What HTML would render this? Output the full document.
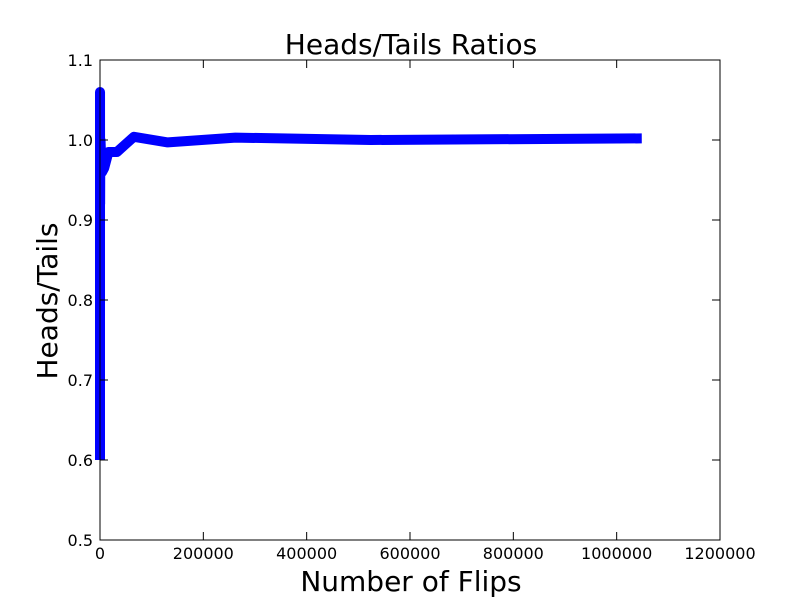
<!DOCTYPE html>
<html><head><meta charset="utf-8"><style>
body{margin:0;background:#fff;}
svg text{font-family:"DejaVu Sans","Liberation Sans",sans-serif;}
</style></head><body>
<svg id="chart" width="800" height="600">
<rect x="0" y="0" width="800" height="600" fill="#fff"/>
<text x="411" y="54" font-size="28" text-anchor="middle">Heads/Tails Ratios</text>
<text x="411" y="591" font-size="28" text-anchor="middle">Number of Flips</text>
<text x="57" y="301" font-size="28" text-anchor="middle" transform="rotate(-90 57 301)">Heads/Tails</text>
<g id="plot"></g>
<rect x="100" y="60" width="620" height="480" fill="none" stroke="#000" stroke-width="1"/>
<g id="axes"></g>
</svg>
<script>
const flips=[4,8,16,32,64,128,256,512,1024,2048,4096,8192,16384,32768,65536,131072,262144,524288,1048576];
const ratios=[0.6,1.06,0.78,0.85,1.06,0.96,0.92,0.97,1.0,0.98,0.96,0.965,0.985,0.985,1.004,0.997,1.003,1.0,1.002];
const xTicks=[0,200000,400000,600000,800000,1000000,1200000];
const yTicks=[0.5,0.6,0.7,0.8,0.9,1.0,1.1];
const L=100,R=720,T=60,B=540,xmin=0,xmax=1200000,ymin=0.5,ymax=1.1;
const X=v=>L+(v-xmin)/(xmax-xmin)*(R-L);
const Y=v=>B-(v-ymin)/(ymax-ymin)*(B-T);
const NS="http://www.w3.org/2000/svg";
const plot=document.getElementById('plot'),axes=document.getElementById('axes');
const line=document.createElementNS(NS,'polyline');
line.setAttribute('points',flips.map((f,i)=>X(f)+','+Y(ratios[i])).join(' '));
line.setAttribute('fill','none');line.setAttribute('stroke','#0000ff');line.setAttribute('stroke-width','10');
line.setAttribute('stroke-linejoin','round');line.setAttribute('stroke-linecap','butt');


plot.appendChild(line);
function mk(tag,attrs){const e=document.createElementNS(NS,tag);for(const k in attrs)e.setAttribute(k,attrs[k]);return e;}
xTicks.forEach(v=>{const x=X(v);
 const t1=mk('line',{x1:x,x2:x,y1:B,y2:B-8,stroke:'#000'});
 
 
 axes.appendChild(t1);
 const t2=mk('line',{x1:x,x2:x,y1:T,y2:T+8,stroke:'#000'});
 
 
 axes.appendChild(t2);
 const tx=mk('text',{x:x,y:B+19,'font-size':'16','text-anchor':'middle'});tx.textContent=v;
 
 
 axes.appendChild(tx);});
yTicks.forEach(v=>{const y=Y(v);
 const t1=mk('line',{x1:L,x2:L+8,y1:y,y2:y,stroke:'#000'});
 
 
 axes.appendChild(t1);
 const t2=mk('line',{x1:R,x2:R-8,y1:y,y2:y,stroke:'#000'});
 
 
 axes.appendChild(t2);
 const tx=mk('text',{x:L-7,y:y+6,'font-size':'16','text-anchor':'end'});tx.textContent=v.toFixed(1);
 
 
 axes.appendChild(tx);});
</script>
</body></html>
